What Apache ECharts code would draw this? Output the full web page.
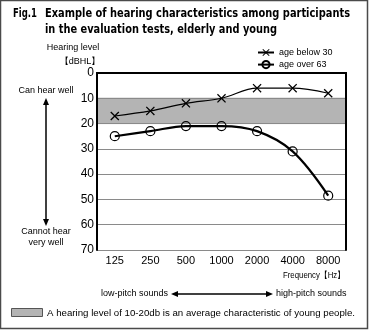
<!DOCTYPE html>
<html>
<head>
<meta charset="utf-8">
<script src="https://cdn.jsdelivr.net/npm/echarts@6/dist/echarts.min.js"></script>
<style>
  html, body { margin: 0; padding: 0; background: #fff; }
  #chart { width: 369px; height: 330px; }
</style>
</head>
<body>
<div id="chart"></div>
<script>
// Audiometric frequencies (Hz) and hearing levels (dBHL)
const frequencies = ['125', '250', '500', '1000', '2000', '4000', '8000'];
const ageBelow30 = [17, 15, 12, 10, 6, 6, 8];
const ageOver63 = [25, 23, 21, 21, 23, 31, 48.5];
const levelTicks = { min: 0, max: 70, interval: 10 };
const youngBand = [10, 20];

const SANS = '"Liberation Sans", Arial, sans-serif';
const TITLE_FONT = 'bold 13px "DejaVu Sans", sans-serif';
const crossSymbol = 'path://M0,1L1,0L5,4L9,0L10,1L6,5L10,9L9,10L5,6L1,10L0,9L4,5Z';

const measureCtx = document.createElement('canvas').getContext('2d');
function textWidth(text, font) {
  measureCtx.font = font;
  return measureCtx.measureText(text).width;
}

function arrowHead(x, y, dir) {
  const L = 7, W = 3;
  let pts;
  if (dir === 'up') pts = [[x, y], [x - W, y + L], [x + W, y + L]];
  if (dir === 'down') pts = [[x, y], [x - W, y - L], [x + W, y - L]];
  if (dir === 'left') pts = [[x, y], [x + L, y - W], [x + L, y + W]];
  if (dir === 'right') pts = [[x, y], [x - L, y - W], [x - L, y + W]];
  return { type: 'polygon', shape: { points: pts }, style: { fill: '#000' } };
}

function label(text, x, y, opts) {
  return {
    type: 'text', x: x, y: y,
    style: Object.assign({
      text: text, fill: '#000', font: '9px ' + SANS,
      textAlign: 'left', textVerticalAlign: 'middle'
    }, opts || {})
  };
}

// Text squeezed horizontally to span a given width, anchored at its left edge
function fittedLabel(text, x, y, width, font) {
  const el = label(text, 0, 0, { font: font });
  el.x = x; el.y = y;
  el.scaleX = width / textWidth(text, font);
  return el;
}

const chart = echarts.init(document.getElementById('chart'), null, { renderer: 'canvas' });

const frameAxis = {
  axisLine: { show: true, lineStyle: { color: '#000', width: 2 } },
  axisTick: { show: false },
  axisLabel: { show: false },
  splitLine: { show: false },
  z: 4
};

chart.setOption({
  animation: false,
  backgroundColor: '#fff',
  grid: { left: 97, right: 23, top: 73, bottom: 80 },
  legend: {
    orient: 'vertical',
    left: 252, top: 43,
    itemWidth: 16, itemHeight: 9, itemGap: 3,
    textStyle: { fontSize: 9, fontFamily: SANS, color: '#000' },
    data: ['age below 30', 'age over 63']
  },
  xAxis: [
    {
      type: 'category', data: frequencies, boundaryGap: true,
      axisLine: { show: true, lineStyle: { color: '#000', width: 2 } },
      axisTick: { show: false },
      axisLabel: { fontSize: 11, fontFamily: SANS, color: '#000', margin: 5 },
      splitLine: { show: false },
      z: 4
    },
    Object.assign({ type: 'category', data: frequencies, position: 'top' }, frameAxis)
  ],
  yAxis: [
    {
      type: 'value', inverse: true,
      min: levelTicks.min, max: levelTicks.max, interval: levelTicks.interval,
      axisLine: { show: true, lineStyle: { color: '#000', width: 2 } },
      axisTick: { show: false },
      axisLabel: { fontSize: 12, fontFamily: SANS, color: '#000', margin: 3 },
      splitLine: { show: true, lineStyle: { color: '#8a8a8a', width: 1 } },
      z: 3
    },
    Object.assign({
      type: 'value', position: 'right', inverse: true,
      min: levelTicks.min, max: levelTicks.max, interval: levelTicks.interval
    }, frameAxis)
  ],
  series: [
    {
      name: 'age below 30', type: 'line', data: ageBelow30,
      smooth: 0.35,
      symbol: crossSymbol, symbolSize: 9,
      itemStyle: { color: '#000' },
      lineStyle: { color: '#000', width: 1.2 },
      z: 5,
      markArea: {
        silent: true,
        itemStyle: { color: '#b4b4b4', borderColor: '#8a8a8a', borderWidth: 1 },
        data: [[{ yAxis: youngBand[0] }, { yAxis: youngBand[1] }]]
      }
    },
    {
      name: 'age over 63', type: 'line', data: ageOver63,
      smooth: 0.35,
      symbol: 'circle', symbolSize: 9,
      itemStyle: { color: 'rgba(255,255,255,0)', borderColor: '#000', borderWidth: 1.2 },
      lineStyle: { color: '#000', width: 2.2 },
      z: 5
    }
  ],
  graphic: [
    // outer frame
    { type: 'rect', shape: { x: 0.5, y: 0.5, width: 367, height: 328 },
      style: { fill: 'none', stroke: '#4a4a4a', lineWidth: 1.5 }, z: 10 },
    // title
    fittedLabel('Fig.1', 13, 14, 24, TITLE_FONT),
    fittedLabel('Example of hearing characteristics among participants', 45, 14, 305, TITLE_FONT),
    fittedLabel('in the evaluation tests, elderly and young', 45, 30, 232, TITLE_FONT),
    // y axis name
    label('Hearing level', 73, 48, { textAlign: 'center' }),
    label('【dBHL】', 80, 62, { textAlign: 'center' }),
    // left annotations
    label('Can hear well', 46, 91, { textAlign: 'center' }),
    label('Cannot hear', 46, 232, { textAlign: 'center' }),
    label('very well', 46, 243, { textAlign: 'center' }),
    { type: 'line', shape: { x1: 46, y1: 103, x2: 46, y2: 221 }, style: { stroke: '#000', lineWidth: 1.5 } },
    arrowHead(46, 98, 'up'),
    arrowHead(46, 226, 'down'),
    // x axis name
    fittedLabel('Frequency【Hz】', 283, 276, 62, '9px ' + SANS),
    // pitch direction
    label('low-pitch sounds', 168, 294, { textAlign: 'right' }),
    label('high-pitch sounds', 276, 294, { textAlign: 'left' }),
    { type: 'line', shape: { x1: 176, y1: 294, x2: 268, y2: 294 }, style: { stroke: '#000', lineWidth: 1.5 } },
    arrowHead(171, 294, 'left'),
    arrowHead(273, 294, 'right'),
    // band key
    { type: 'rect', shape: { x: 11.5, y: 308.5, width: 31, height: 8 },
      style: { fill: '#b4b4b4', stroke: '#555', lineWidth: 1 } },
    label('A hearing level of 10-20db is an average characteristic of young people.', 47, 313, { font: '9.7px ' + SANS })
  ]
});
</script>
</body>
</html>
